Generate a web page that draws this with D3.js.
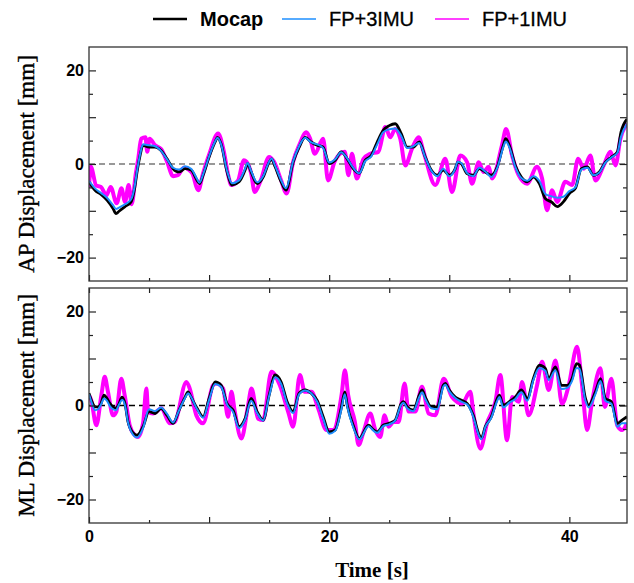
<!DOCTYPE html>
<html>
<head>
<meta charset="utf-8">
<script src="https://cdn.jsdelivr.net/npm/d3@7"></script>
<style>
    body { margin: 0; background: #fff; }
    .tickLabel text { font-family: 'Liberation Sans', Arial, sans-serif; font-weight: bold; font-size: 16px; fill: #000; }
    .axisTitle { font-family: 'Liberation Serif', 'Times New Roman', serif; fill: #000; }
    .legendText { font-family: 'Liberation Sans', Arial, sans-serif; font-size: 20px; fill: #000; }
</style>
</head>
<body>
<div id="chart"></div>
<script>
'use strict';

// Data (time [s], displacement [mm])
const apMocap = [[0,-3.8],[0.5,-5.6],[1,-6.5],[1.5,-7.7],[2,-9.5],[2.25,-10.6],[2.5,-10.1],[3,-9.1],[3.5,-8.1],[3.8,-5.2],[4,-1.7],[4.25,1.8],[4.5,4.0],[5,3.6],[5.5,3.6],[6,2.9],[6.5,1.1],[7,-1.0],[7.5,-1.7],[8,-1.0],[8.5,-1.3],[9,-3.5],[9.2,-4.2],[9.5,-2.4],[10,1.5],[10.5,4.7],[10.7,5.7],[11,4.3],[11.5,-1.7],[11.9,-4.5],[12.5,-3.8],[13,-1.3],[13.2,0.1],[13.5,-1.7],[14,-4.2],[14.5,-2.8],[15,0.4],[15.2,1.1],[15.5,-0.6],[16,-3.8],[16.4,-5.6],[17,0.4],[17.5,3.6],[18,5.7],[18.5,4.7],[19,4.0],[19.5,3.6],[20,0.1],[20.5,0.8],[21,2.6],[21.5,1.1],[22,-1.0],[22.5,-2.0],[23,0.8],[23.5,1.8],[24,4.7],[24.5,7.2],[25,8.2],[25.5,8.6],[26,6.5],[26.5,3.6],[27,3.6],[27.5,4.7],[28,1.5],[28.5,-1.3],[29,-2.4],[29.5,-1.3],[30,-2.4],[30.5,-1.0],[30.7,0.4],[31,0.1],[31.5,-2.1],[32,-2.4],[32.5,-1.0],[33,-1.7],[33.5,-2.4],[34,-0.6],[34.5,4.0],[34.7,5.4],[35,4.0],[35.5,-0.3],[36,-2.8],[36.5,-3.8],[37,-2.8],[37.5,-4.2],[38,-7.4],[38.5,-8.1],[39,-9.1],[39.5,-8.1],[40,-6.3],[40.5,-5.2],[41,-1.0],[41.5,-0.6],[42,-2.4],[42.5,-1.7],[43,0.4],[43.5,1.5],[44,2.6],[44.3,6.8],[44.8,9.6]];
const apFP3 = [[0,-3.6],[0.5,-5.2],[1,-6.2],[1.5,-7.2],[2,-8.8],[2.25,-9.6],[2.5,-9.3],[3,-8.6],[3.5,-7.6],[3.8,-4.8],[4,-1.5],[4.25,2.0],[4.5,4.2],[5,4.0],[5.5,3.8],[6,2.8],[6.5,1.0],[7,-0.8],[7.5,-1.2],[8,-0.5],[8.5,-1.0],[9,-3.2],[9.2,-4.0],[9.5,-2.2],[10,1.6],[10.5,4.8],[10.7,5.6],[11,4.2],[11.5,-1.5],[11.9,-4.1],[12.5,-3.5],[13,-1.0],[13.2,0.2],[13.5,-1.5],[14,-3.9],[14.5,-2.6],[15,0.5],[15.2,1.2],[15.5,-0.4],[16,-3.5],[16.4,-5.2],[17,0.6],[17.5,3.8],[18,5.6],[18.5,4.6],[19,4.2],[19.5,3.4],[20,0.3],[20.5,1.0],[21,2.5],[21.5,1.2],[22,-0.8],[22.5,-2.0],[23,0.6],[23.5,1.6],[24,4.2],[24.5,6.8],[25,7.4],[25.5,7.6],[26,6.0],[26.5,3.4],[27,3.8],[27.5,4.5],[28,1.4],[28.5,-1.4],[29,-2.6],[29.5,-1.0],[30,-2.6],[30.5,-1.0],[30.7,0.5],[31,0.2],[31.5,-2.0],[32,-2.6],[32.5,-0.8],[33,-1.6],[33.5,-2.8],[34,-0.8],[34.5,3.6],[34.7,4.8],[35,3.6],[35.5,-0.6],[36,-3.0],[36.5,-3.6],[37,-2.6],[37.5,-3.6],[38,-6.4],[38.5,-6.9],[39,-7.2],[39.5,-7.0],[40,-5.8],[40.5,-5.0],[41,-1.2],[41.5,-0.8],[42,-2.4],[42.5,-1.8],[43,0.3],[43.5,1.4],[44,2.4],[44.3,5.8],[44.8,8.6]];
const apFP1 = [[0,-5.0],[0.15,-0.6],[0.6,-4.6],[1.0,-4.9],[1.45,-6.7],[1.8,-4.9],[2.3,-8.4],[2.7,-5.2],[3.0,-8.1],[3.3,-4.5],[3.55,-8.6],[3.9,-2.0],[4.1,1.1],[4.35,5.4],[4.7,5.7],[4.85,2.6],[5.05,5.4],[5.5,4.0],[6.0,3.2],[6.5,0.5],[7.0,-2.6],[7.4,-2.4],[7.9,-0.8],[8.3,-1.2],[8.6,-2.0],[9.1,-5.6],[9.5,-2.0],[10.0,2.0],[10.75,6.5],[11.2,3.0],[11.6,-2.5],[11.85,-4.5],[12.4,-3.6],[12.9,0.8],[13.1,0.5],[13.5,-2.0],[13.8,-6.0],[14.3,-3.5],[15.0,1.5],[15.4,0.5],[16.0,-3.5],[16.45,-6.3],[17.0,0.5],[17.5,4.0],[18.1,6.8],[18.4,5.5],[18.8,2.2],[19.5,5.4],[19.9,-3.5],[20.5,0.8],[21.3,2.6],[21.6,-2.4],[21.9,2.2],[22.3,-3.1],[22.86,1.1],[23.42,2.2],[24.1,2.6],[24.67,7.9],[25.09,5.7],[25.5,7.5],[25.92,5.4],[26.34,-0.3],[26.9,3.3],[27.45,5.7],[27.86,2.6],[28.84,-4.5],[29.67,1.1],[30.23,-6.0],[30.92,1.8],[31.48,0.4],[31.9,-4.2],[32.45,0.4],[32.86,-1.7],[33.28,-0.6],[33.56,-3.1],[34.39,4.0],[34.73,7.5],[35.23,1.8],[35.78,-2.4],[36.48,-4.2],[37.31,-0.6],[37.73,-3.1],[38.14,-9.9],[38.56,-5.6],[38.98,-8.1],[39.67,-3.8],[40.23,-4.5],[40.73,1.1],[41.2,-1.0],[41.75,1.8],[42.17,-3.5],[42.86,-0.3],[43.42,2.6],[43.84,-0.3],[44.25,5.4],[44.8,8.6]];

const mlMocap = [[0,2.6],[0.25,0.8],[0.5,-0.3],[0.75,-0.3],[1,0.4],[1.25,2.2],[1.5,1.5],[1.75,0.4],[2,-0.3],[2.25,-0.6],[2.5,0.4],[2.75,1.8],[3,0.4],[3.25,-3.5],[3.5,-5.2],[4,-6.3],[4.5,-4.5],[5,-1.3],[5.5,-1.7],[6,-0.6],[6.5,-2.1],[7,-3.8],[7.5,-1.0],[8,1.8],[8.25,2.9],[8.5,1.8],[9,-0.6],[9.5,-2.4],[10,1.5],[10.5,5.0],[11,4.3],[11.5,0.4],[12,-1.0],[12.5,-4.5],[13,-2.8],[13.5,1.5],[14,-1.3],[14.5,-3.1],[15,2.2],[15.5,6.5],[16,5.0],[16.5,0.8],[17,-1.3],[17.5,2.6],[18,3.3],[18.5,2.6],[19,1.1],[19.5,-2.4],[20,-5.6],[20.5,-5.2],[21,-0.6],[21.3,2.9],[21.5,0.1],[22,-4.2],[22.5,-7.0],[23.28,-4.2],[23.7,-5.2],[24,-5.6],[24.5,-4.2],[25,-3.8],[25.5,-3.1],[26,0.4],[26.2,0.8],[26.5,-0.3],[27,-1.0],[27.5,2.2],[27.73,3.3],[28,1.8],[28.5,-0.3],[29,-0.3],[29.5,4.3],[29.67,4.7],[30,3.3],[30.5,1.8],[31,1.1],[31.5,0.4],[32,-2.1],[32.5,-6.3],[32.67,-7.0],[33,-4.5],[33.5,-2.4],[34,1.5],[34.17,2.2],[34.5,0.1],[35,0.8],[35.5,1.8],[36,3.3],[36.5,1.5],[37,5.7],[37.5,8.6],[38,7.9],[38.28,5.7],[38.84,8.2],[39.34,4.3],[39.84,4.3],[40.22,5.7],[40.6,8.9],[40.84,8.6],[41.34,1.5],[41.6,0.1],[42.17,2.9],[42.6,5.7],[43,1.5],[43.5,0.8],[44,-3.8],[44.39,-3.1],[44.8,-2.4]];
const mlFP3 = [[0,2.4],[0.25,0.4],[0.5,-1.0],[0.75,-0.8],[1,0.2],[1.25,1.5],[1.5,1.0],[1.75,-0.2],[2,-0.8],[2.25,-1.0],[2.5,0.2],[2.75,1.2],[3,0.0],[3.25,-3.6],[3.5,-5.5],[4,-6.8],[4.5,-4.8],[5,-0.8],[5.5,-1.2],[6,-0.4],[6.5,-1.8],[7,-3.6],[7.5,-1.0],[8,1.6],[8.25,2.6],[8.5,1.8],[9,-0.8],[9.5,-2.6],[10,1.2],[10.5,4.6],[11,4.0],[11.5,0.2],[12,-1.4],[12.5,-4.8],[13,-3.0],[13.5,1.0],[14,-1.6],[14.5,-3.2],[15,2.0],[15.5,6.0],[16,4.6],[16.5,0.4],[17,-1.6],[17.5,2.4],[18,3.2],[18.5,2.6],[19,0.8],[19.5,-2.8],[20,-6.0],[20.5,-5.4],[21,-1.0],[21.3,2.4],[21.5,-0.2],[22,-4.6],[22.5,-7.2],[23.28,-4.4],[23.7,-5.4],[24,-5.8],[24.5,-4.4],[25,-4.0],[25.5,-3.2],[26,0.2],[26.2,0.6],[26.5,-0.6],[27,-1.2],[27.5,1.8],[27.73,2.8],[28,1.4],[28.5,-0.6],[29,-0.8],[29.5,4.0],[29.67,4.4],[30,3.0],[30.5,1.6],[31,0.8],[31.5,0.2],[32,-2.4],[32.5,-6.6],[32.67,-7.2],[33,-4.6],[33.5,-2.6],[34,1.0],[34.17,1.8],[34.5,-0.4],[35,0.6],[35.5,1.4],[36,2.8],[36.5,1.0],[37,5.4],[37.5,8.0],[38,7.4],[38.28,5.4],[38.84,7.5],[39.34,3.5],[39.84,3.8],[40.22,5.2],[40.6,8.0],[40.84,7.8],[41.34,1.0],[41.6,-0.4],[42.17,2.4],[42.6,5.2],[43,1.0],[43.5,0.4],[44,-4.5],[44.39,-3.8],[44.8,-3.8]];
const mlFP1 = [[0,2.2],[0.19,1.1],[0.61,-4.2],[1.03,2.2],[1.31,6.1],[1.58,2.9],[2.0,-2.1],[2.28,-1.3],[2.69,5.7],[2.97,2.2],[3.39,-4.2],[3.81,-6.3],[4.08,-6.7],[4.5,-3.8],[4.78,3.6],[4.92,-1.3],[5.33,-1.7],[6.03,-0.6],[6.72,-3.8],[7.14,-3.5],[8.11,5.0],[8.39,3.6],[8.94,-2.1],[9.5,-3.8],[10.33,4.3],[10.61,4.7],[11.17,3.6],[11.58,-2.4],[11.86,2.9],[12.14,-1.3],[12.69,-7.0],[13.25,0.1],[13.53,3.6],[14.08,-2.8],[14.5,-3.1],[15.19,7.2],[15.89,4.3],[16.58,-1.3],[17.0,-4.5],[17.56,6.5],[17.97,2.9],[18.53,2.9],[19.08,-0.6],[19.78,-5.2],[20.33,-5.2],[21.03,2.2],[21.31,7.5],[21.58,2.2],[22.14,-3.5],[22.45,-8.4],[22.86,-5.6],[23.42,-1.7],[23.84,-5.2],[24.25,-6.7],[24.61,-2.1],[24.95,-4.5],[25.36,-3.5],[25.78,-3.5],[26.28,4.7],[26.61,-1.3],[27.17,-1.3],[27.73,4.0],[28.28,-1.7],[28.84,-2.1],[29.53,5.7],[30.23,1.8],[31.06,0.4],[31.75,2.9],[32.03,-2.1],[32.59,-9.2],[33.14,-3.8],[33.84,0.8],[34.25,6.5],[34.81,-7.4],[35.23,1.8],[35.78,0.8],[36.06,5.0],[36.61,-2.1],[37.31,4.3],[37.73,9.3],[38.28,3.3],[38.84,9.6],[39.39,0.4],[39.95,4.3],[40.64,12.5],[41.06,4.3],[41.48,-5.2],[41.89,0.8],[42.59,7.9],[42.95,-0.3],[43.5,5.7],[43.98,-4.2],[44.39,-5.2],[44.8,-3.8]];

const seriesNames = ['Mocap', 'FP+3IMU', 'FP+1IMU'];
const seriesColors = ['#000000', '#1e8fff', '#ff00ff'];
const panelTitles = ['AP Displacement [mm]', 'ML Displacement [mm]'];
const yMajorTicks = [-20, -10, 0, 10, 20];
const yMinorTicks = [-15, -5, 5, 15];
const yLabelTicks = [-20, 0, 20];
const xMajorTicks = [0, 10, 20, 30, 40];
const xMinorTicks = [5, 15, 25, 35];
const xLabelTicks = [0, 20, 40];

/*
Config
 */
const svgW = 634;
const svgH = 583;
const plotL = 89;
const plotR = 627;
const panels = [
    {top: 47, bottom: 281, data: [apMocap, apFP3, apFP1], title: panelTitles[0], zeroColor: '#777', ticksTop: false},
    {top: 288, bottom: 523, data: [mlMocap, mlFP3, mlFP1], title: panelTitles[1], zeroColor: '#000', ticksTop: true}
];
const lineWidths = [2.8, 2, 4];
const drawOrder = [2, 0, 1];

const svg = d3.select('#chart')
    .append('svg')
    .attr('width', svgW)
    .attr('height', svgH);

const xScale = d3.scaleLinear()
    .domain([0, 44.8])
    .range([plotL, plotR]);

const fmtY = d => yLabelTicks.includes(d) ? (d < 0 ? '\u2212' + Math.abs(d) : d) : '';
const fmtX = d => xLabelTicks.includes(d) ? d : '';

panels.forEach((p, i) => {
    const yScale = d3.scaleLinear()
        .domain([-25, 25])
        .range([p.bottom, p.top]);

    const g = svg.append('g').attr('class', 'panel');

    // Clip
    const clipId = 'clip' + i;
    svg.append('clipPath').attr('id', clipId)
        .append('rect')
        .attr('x', plotL).attr('y', p.top)
        .attr('width', plotR - plotL).attr('height', p.bottom - p.top);

    // Zero line
    g.append('line')
        .attr('x1', plotL).attr('x2', plotR)
        .attr('y1', yScale(0)).attr('y2', yScale(0))
        .attr('stroke', p.zeroColor)
        .attr('stroke-width', 1.3)
        .attr('stroke-dasharray', '6,4');

    // Lines
    const line = d3.line()
        .x(d => xScale(d[0]))
        .y(d => yScale(d[1]))
        .curve(d3.curveMonotoneX);
    const linesG = g.append('g').attr('clip-path', `url(#${clipId})`);
    drawOrder.forEach(k => {
        linesG.append('path')
            .datum(p.data[k])
            .attr('fill', 'none')
            .attr('stroke', seriesColors[k])
            .attr('stroke-width', lineWidths[k])
            .attr('stroke-linejoin', 'round')
            .attr('d', line);
    });

    // Y axes (ticks inward)
    g.append('g')
        .attr('class', 'tickLabel')
        .attr('transform', `translate(${plotL},0)`)
        .call(d3.axisLeft(yScale).tickValues(yMajorTicks).tickSize(-7).tickPadding(5).tickFormat(fmtY));
    g.append('g')
        .attr('transform', `translate(${plotL},0)`)
        .call(d3.axisLeft(yScale).tickValues(yMinorTicks).tickSize(-4).tickFormat(''));
    g.append('g')
        .attr('transform', `translate(${plotR},0)`)
        .call(d3.axisRight(yScale).tickValues(yMajorTicks).tickSize(-7).tickFormat(''));
    g.append('g')
        .attr('transform', `translate(${plotR},0)`)
        .call(d3.axisRight(yScale).tickValues(yMinorTicks).tickSize(-4).tickFormat(''));

    // X ticks
    const isLast = i === panels.length - 1;
    g.append('g')
        .attr('class', 'tickLabel')
        .attr('transform', `translate(0,${p.bottom})`)
        .call(d3.axisBottom(xScale).tickValues(xMajorTicks).tickSize(-6).tickPadding(8)
            .tickFormat(isLast ? fmtX : ''));
    g.append('g')
        .attr('transform', `translate(0,${p.bottom})`)
        .call(d3.axisBottom(xScale).tickValues(xMinorTicks).tickSize(-3).tickFormat(''));
    if (p.ticksTop) {
        g.append('g')
            .attr('transform', `translate(0,${p.top})`)
            .call(d3.axisTop(xScale).tickValues(xMajorTicks.concat(xMinorTicks)).tickSize(-5).tickFormat(''));
    }

    g.selectAll('.domain').remove();
    g.selectAll('.tick line').attr('stroke', '#222').attr('stroke-width', 1.2);

    // Frame
    g.append('rect')
        .attr('x', plotL).attr('y', p.top)
        .attr('width', plotR - plotL).attr('height', p.bottom - p.top)
        .attr('fill', 'none')
        .attr('stroke', '#333')
        .attr('stroke-width', 1.3);

    // Y title
    svg.append('text')
        .attr('class', 'axisTitle')
        .attr('transform', `translate(34,${(p.top + p.bottom) / 2}) rotate(-90)`)
        .attr('text-anchor', 'middle')
        .style('font-size', '23px')
        .style('stroke', '#000')
        .style('stroke-width', 0.4)
        .text(p.title);
});

// X title
svg.append('text')
    .attr('class', 'axisTitle')
    .attr('x', 372)
    .attr('y', 577)
    .attr('text-anchor', 'middle')
    .style('font-size', '21px')
    .style('font-weight', 'bold')
    .text('Time [s]');

// Legend
const legendX = [153, 282, 435];
const legendG = svg.append('g').attr('class', 'legend');
seriesNames.forEach((name, k) => {
    legendG.append('line')
        .attr('x1', legendX[k]).attr('x2', legendX[k] + 34)
        .attr('y1', 19).attr('y2', 19)
        .attr('stroke', seriesColors[k])
        .attr('stroke-width', k === 0 ? 2.6 : 1.4);
    legendG.append('text')
        .attr('class', 'legendText')
        .attr('x', legendX[k] + 47)
        .attr('y', 26)
        .style('font-weight', k === 0 ? 'bold' : 'normal')
        .style('stroke', k === 0 ? 'none' : '#000')
        .style('stroke-width', 0.3)
        .text(name);
});
</script>
</body>
</html>
